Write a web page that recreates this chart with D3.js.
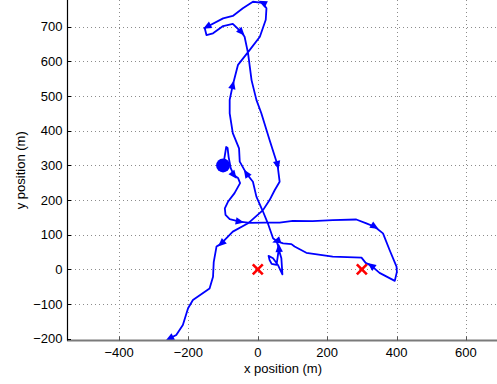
<!DOCTYPE html>
<html>
<head>
<meta charset="utf-8">
<script src="https://cdn.jsdelivr.net/npm/d3@7"></script>
<style>
  body { margin: 0; background: #fff; }
  text { font-family: "Liberation Sans", Arial, sans-serif; font-size: 13px; fill: #000; }
</style>
</head>
<body>
<svg id="chart" width="497" height="384"></svg>
<script>
// trajectory, metres
const pathX = [-100, -97, -91, -87, -84, -78, -69, -57, -51, -67, -86, -95, -93, -81, -52, -23, 20, 63, 101, 158,
  216, 284, 313, 337, 361, 380, 400, 401, 395, 351, 327, 311, 299, 216, 140, 106, 97, 73, 54, 58,
  61, 68, 71, 58, 44, 31, 34, 40, 54, 57, 61, 54, 44, 29, 15, -4, -14, -33, -52, -54,
  -72, -81, -81, -72, -57, -23, 6, 23, 25, 14, -14, -43, -72, -100, -146, -153, -148, -129, -100, -72,
  -47, -38, -28, -18, -4, 10, 34, 57, 63, 49, 34, 15, -28, -72, -105, -119, -127, -129, -139, -187,
  -201, -216, -235, -254];
const pathY = [300, 316, 353, 350, 324, 292, 272, 264, 249, 220, 195, 176, 157, 145, 138, 134, 135, 135, 140, 139,
  142, 144, 133, 123, 104, 56, 8, -7, -33, -10, 11, 19, 34, 37, 48, 66, 73, 75, 82, 70,
  56, 32, -14, 13, 32, 39, 27, 16, 13, 33, 62, 82, 90, 133, 167, 210, 253, 277, 311, 349,
  393, 450, 489, 532, 590, 633, 671, 720, 753, 769, 772, 753, 731, 724, 700, 696, 676, 681, 702, 708,
  684, 671, 623, 546, 489, 451, 373, 301, 253, 229, 200, 171, 133, 109, 75, 66, 21, -21, -55, -88,
  -112, -160, -189, -199];
const arrowIdx = [6, 14, 23, 30, 38, 50, 57, 63, 69, 74, 80, 87, 94, 103];

const startPoint = [-100, 300];
const targetX = [0, 300];
const targetY = [0, 0];

const xTicks = [-400, -200, 0, 200, 400, 600];
const yTicks = [-200, -100, 0, 100, 200, 300, 400, 500, 600, 700];

const svg = d3.select('#chart');
const plotLeft = 67, plotRight = 511, plotTop = 0, plotBottom = 340.5;

const x = d3.scaleLinear().domain([-550, 730]).range([plotLeft, plotRight]);
const y = d3.scaleLinear().domain([-205, 777]).range([plotBottom, plotTop]);

const minus = s => String(s).replace('-', '\u2212');

// dotted grid
const grid = svg.append('g');
grid.selectAll('.gx').data(xTicks).enter().append('line')
  .attr('x1', d => Math.round(x(d)) + 0.5).attr('x2', d => Math.round(x(d)) + 0.5)
  .attr('y1', plotTop).attr('y2', plotBottom)
  .attr('stroke', '#8c8c8c').attr('stroke-width', 1).attr('stroke-dasharray', '1,3');
grid.selectAll('.gy').data(yTicks.filter(d => d > -200)).enter().append('line')
  .attr('x1', plotLeft).attr('x2', plotRight)
  .attr('y1', d => Math.round(y(d)) + 0.5).attr('y2', d => Math.round(y(d)) + 0.5)
  .attr('stroke', '#8c8c8c').attr('stroke-width', 1).attr('stroke-dasharray', '1,3');

// trajectory
const pts = pathX.map((v, i) => [x(v), y(pathY[i])]);
svg.append('path')
  .attr('d', d3.line()(pts))
  .attr('fill', 'none')
  .attr('stroke', '#0000ff')
  .attr('stroke-width', 1.8)
  .attr('stroke-linejoin', 'round');

svg.selectAll('.arrow').data(arrowIdx).enter().append('path')
  .attr('class', 'arrow')
  .attr('d', 'M4.5,0L-4,-3.7L-4,3.7Z')
  .attr('fill', '#0000ff')
  .attr('transform', i => {
    const a = pts[Math.max(i - 1, 0)], b = pts[Math.min(i + 1, pts.length - 1)];
    const ang = Math.atan2(b[1] - a[1], b[0] - a[0]) * 180 / Math.PI;
    return `translate(${pts[i][0]},${pts[i][1]}) rotate(${ang})`;
  });

svg.append('circle')
  .attr('cx', x(startPoint[0])).attr('cy', y(startPoint[1]))
  .attr('r', 7).attr('fill', '#0000ff');

const cross = svg.selectAll('.target').data(targetX).enter().append('g')
  .attr('transform', (d, i) => `translate(${x(d)},${y(targetY[i])})`);
cross.append('path')
  .attr('d', 'M-5,-5L5,5M-5,5L5,-5')
  .attr('stroke', '#ff0000').attr('stroke-width', 2.6);

// axes
svg.append('line')
  .attr('x1', plotLeft).attr('x2', 497).attr('y1', plotBottom).attr('y2', plotBottom)
  .attr('stroke', '#7a7a7a').attr('stroke-width', 2);
svg.append('line')
  .attr('x1', plotLeft + 0.5).attr('x2', plotLeft + 0.5).attr('y1', plotTop).attr('y2', plotBottom)
  .attr('stroke', '#000').attr('stroke-width', 1.2);

svg.selectAll('.tx').data(xTicks).enter().append('line')
  .attr('x1', d => Math.round(x(d)) + 0.5).attr('x2', d => Math.round(x(d)) + 0.5)
  .attr('y1', plotBottom).attr('y2', plotBottom - 4)
  .attr('stroke', '#555');
svg.selectAll('.ty').data(yTicks).enter().append('line')
  .attr('x1', plotLeft).attr('x2', plotLeft + 4)
  .attr('y1', d => Math.round(y(d)) + 0.5).attr('y2', d => Math.round(y(d)) + 0.5)
  .attr('stroke', '#000');

svg.selectAll('.lx').data(xTicks).enter().append('text')
  .attr('x', d => x(d)).attr('y', 357)
  .attr('text-anchor', 'middle')
  .text(minus);
svg.selectAll('.ly').data(yTicks).enter().append('text')
  .attr('x', 62.5).attr('y', d => y(d))
  .attr('dy', '0.36em')
  .attr('text-anchor', 'end')
  .text(minus);

svg.append('text')
  .attr('x', 283).attr('y', 373)
  .attr('text-anchor', 'middle')
  .text('x position (m)');
svg.append('text')
  .attr('transform', `translate(24.5,${(plotTop + plotBottom) / 2}) rotate(-90)`)
  .attr('text-anchor', 'middle')
  .text('y position (m)');
</script>
</body>
</html>
